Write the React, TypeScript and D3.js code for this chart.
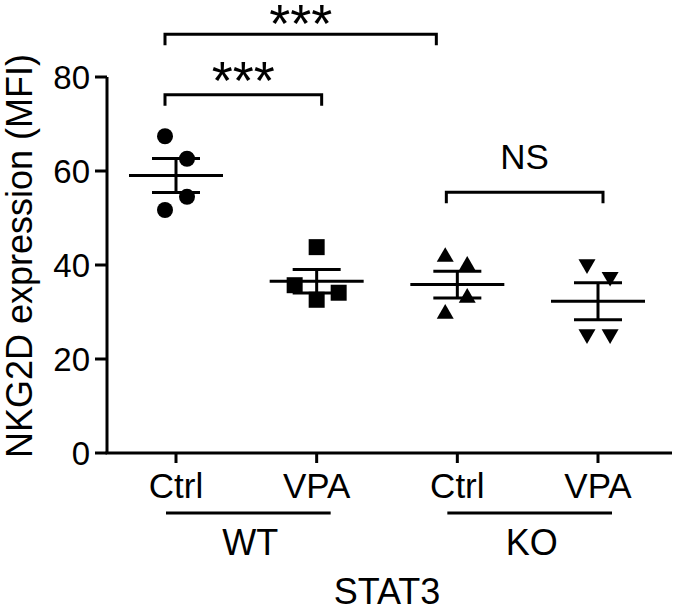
import React from 'react';
import * as d3 from 'd3';

const categories = ['Ctrl', 'VPA', 'Ctrl', 'VPA'];
const groupLabels = ['WT', 'KO'];
const axisGroupTitle = 'STAT3';
const yTitle = 'NKG2D expression (MFI)';

const ctrlWT = [67.4, 62.6, 54.5, 51.7];
const vpaWT = [43.8, 35.7, 32.6, 34.1];
const ctrlKO = [41.5, 39.6, 32.8, 29.4];
const vpaKO = [40.4, 37.7, 25.5, 25.5];
const seriesValues = [ctrlWT, vpaWT, ctrlKO, vpaKO];
const markerTypes = ['circle', 'square', 'triangle', 'triangleDown'];

const yTicks = [0, 20, 40, 60, 80];

// significance brackets (category indices, level in data units)
const bracketFrom = [0, 0, 2];
const bracketTo = [2, 1, 3];
const bracketLevel = [89.1, 76.2, 55.5];
const bracketLabel = ['***', '***', 'NS'];

// point dodge slots (layout)
const dodge = [
  [-1, 1, 1, -1],
  [0, -2, 0, 2],
  [-1.1, 0.9, 0.9, -1.1],
  [-1, 1.1, -1, 1.1],
];

const W = 675;
const H = 609;
const FONT = '"Liberation Sans", Arial, Helvetica, sans-serif';

export default function App() {
  const x0 = 107;
  const y = d3.scaleLinear().domain([0, 80]).range([453, 77]);
  const x = d3.scalePoint<number>().domain([0, 1, 2, 3]).range([176, 598]);

  const sym = (t: string) => {
    if (t === 'circle') return d3.symbol().type(d3.symbolCircle).size(Math.PI * 64)();
    if (t === 'square') return d3.symbol().type(d3.symbolSquare).size(256)();
    return d3.symbol().type(d3.symbolTriangle).size(125)();
  };

  const lw = 3;

  return (
    <svg
      width={W}
      height={H}
      style={{ position: 'absolute', left: 0, top: 0, background: '#fff' }}
      fontFamily={FONT}
    >
      <rect x={0} y={0} width={W} height={H} fill="#fff" />
      {/* y axis */}
      <line x1={x0} x2={x0} y1={y(80)} y2={y(0)} stroke="#000" strokeWidth={lw} />
      {yTicks.map((t) => (
        <g key={t}>
          <line x1={x0 - 12} x2={x0} y1={y(t)} y2={y(t)} stroke="#000" strokeWidth={lw} />
          <text x={90} y={y(t)} dy="0.36em" textAnchor="end" fontSize={33}>
            {t}
          </text>
        </g>
      ))}
      <text
        transform={`translate(32,256) rotate(-90)`}
        textAnchor="middle"
        fontSize={36}
      >
        {yTitle}
      </text>

      {/* x axis */}
      <line x1={x0 - 1.5} x2={672} y1={y(0)} y2={y(0)} stroke="#000" strokeWidth={lw} />
      {categories.map((c, i) => (
        <g key={i}>
          <line x1={x(i)!} x2={x(i)!} y1={y(0)} y2={y(0) + 10} stroke="#000" strokeWidth={lw} />
          <text x={x(i)!} y={498} textAnchor="middle" fontSize={35}>
            {c}
          </text>
        </g>
      ))}
      {groupLabels.map((g, gi) => {
        const a = x(gi * 2)! - 10;
        const b = x(gi * 2 + 1)! + 14;
        return (
          <g key={g}>
            <line x1={a} x2={b} y1={513} y2={513} stroke="#000" strokeWidth={lw} />
            <text x={(a + b) / 2 + 2} y={555} textAnchor="middle" fontSize={36}>
              {g}
            </text>
          </g>
        );
      })}
      <text x={(x(0)! + x(3)!) / 2} y={604} textAnchor="middle" fontSize={36}>
        {axisGroupTitle}
      </text>

      {/* data */}
      {seriesValues.map((vals, i) => {
        const cx = x(i)!;
        const m = d3.mean(vals)!;
        const sem = d3.deviation(vals)! / Math.sqrt(vals.length);
        const t = markerTypes[i];
        return (
          <g key={i}>
            {vals.map((v, j) => (
              <path
                key={j}
                d={sym(t)!}
                transform={`translate(${cx + dodge[i][j] * 11},${y(v) + (t === 'triangleDown' ? 1 : t === 'triangle' ? -1 : 0)}) rotate(${t === 'triangleDown' ? 180 : 0})`}
                fill="#000"
              />
            ))}
            <line x1={cx - 47} x2={cx + 47} y1={y(m)} y2={y(m)} stroke="#000" strokeWidth={lw} />
            <line x1={cx} x2={cx} y1={y(m + sem)} y2={y(m - sem)} stroke="#000" strokeWidth={lw} />
            <line x1={cx - 24} x2={cx + 24} y1={y(m + sem)} y2={y(m + sem)} stroke="#000" strokeWidth={lw} />
            <line x1={cx - 24} x2={cx + 24} y1={y(m - sem)} y2={y(m - sem)} stroke="#000" strokeWidth={lw} />
          </g>
        );
      })}

      {/* brackets */}
      {bracketLabel.map((lab, k) => {
        const a = x(bracketFrom[k])! - 11;
        const b = x(bracketTo[k])! + (k === 0 ? -21 : 5);
        const by = y(bracketLevel[k]);
        const drop = 11;
        const isStar = lab.startsWith('*');
        return (
          <g key={k}>
            <path
              d={`M${a},${by + drop} V${by} H${b} V${by + drop}`}
              fill="none"
              stroke="#000"
              strokeWidth={lw}
            />
            <text
              x={(a + b) / 2}
              y={isStar ? by + (k === 0 ? 8 : 4) : by - 23}
              textAnchor="middle"
              fontSize={isStar ? 54 : 35}
            >
              {lab}
            </text>
          </g>
        );
      })}
    </svg>
  );
}
